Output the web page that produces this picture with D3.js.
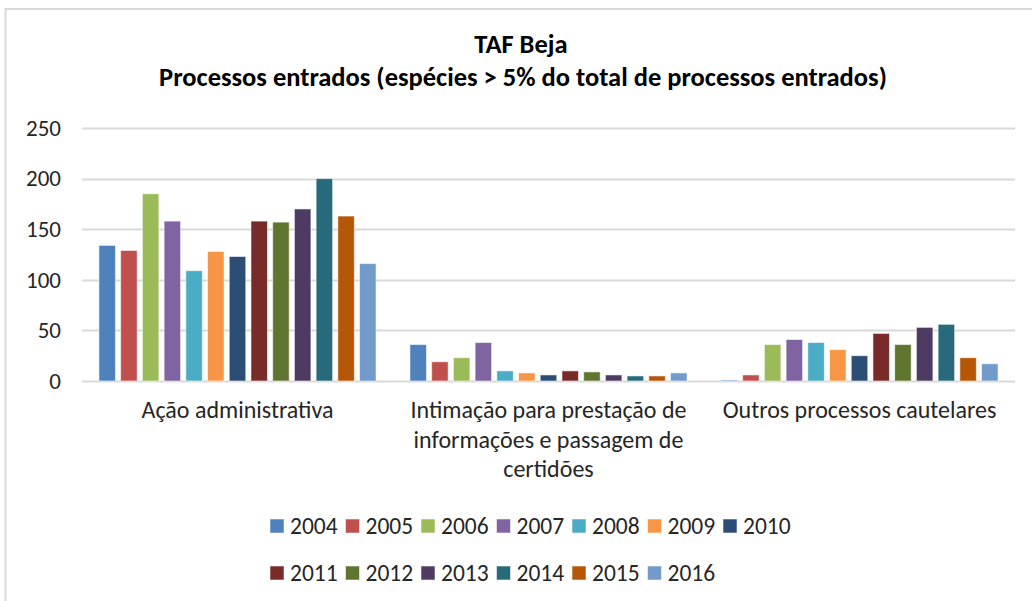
<!DOCTYPE html>
<html>
<head>
<meta charset="utf-8">
<script src="https://cdn.jsdelivr.net/npm/d3@7/dist/d3.min.js"></script>
<style>
  html, body { margin: 0; padding: 0; background: #fff; }
  svg { display: block; font-family: Carlito, Calibri, Lato, sans-serif; }
</style>
</head>
<body>
<svg id="chart" width="1032" height="601"></svg>
<script>
'use strict';

var categories = [
    "Ação administrativa",
    "Intimação para prestação de informações e passagem de certidões",
    "Outros processos cautelares"
];
// wrapped the way the original shows them
var categoryLines = [
    ["Ação administrativa"],
    ["Intimação para prestação de", "informações e passagem de", "certidões"],
    ["Outros processos cautelares"]
];

var years = ["2004", "2005", "2006", "2007", "2008", "2009", "2010",
             "2011", "2012", "2013", "2014", "2015", "2016"];

// one array per category, one value per year
var acaoAdministrativa = [134, 129, 185, 158, 109, 128, 123, 158, 157, 170, 200, 163, 116];
var intimacao = [36, 19, 23, 38, 10, 8, 6, 10, 9, 6, 5, 5, 8];
var outrosCautelares = [1, 6, 36, 41, 38, 31, 25, 47, 36, 53, 56, 23, 17];

var yTicks = [0, 50, 100, 150, 200, 250];

var colors = ["#4F81BD", "#C0504D", "#9BBB59", "#8064A2", "#4BACC6", "#F79646", "#2C4D75",
              "#772C2A", "#5F7530", "#4D3B62", "#276A7C", "#B65708", "#729ACA"];

var seriesByCategory = [acaoAdministrativa, intimacao, outrosCautelares];

var svg = d3.select("#chart");

var margin = {left: 82, right: 1015, top: 128, bottom: 381};

var x0 = d3.scaleBand()
    .domain(categories)
    .range([margin.left, margin.right])
    .padding(0);

var x1 = d3.scaleBand()
    .domain(years)
    .range([0, x0.bandwidth()])
    .paddingInner(0.24)
    .paddingOuter(0.78);

var y = d3.scaleLinear()
    .domain([0, 250])
    .range([margin.bottom, margin.top]);

var color = d3.scaleOrdinal().domain(years).range(colors);

// chart area border
svg.append("rect")
    .attr("x", 5.5)
    .attr("y", 9)
    .attr("width", 1100)
    .attr("height", 700)
    .attr("fill", "none")
    .attr("stroke", "#d9d9d9")
    .attr("stroke-width", 2);

// title
var title = svg.append("text")
    .attr("text-anchor", "middle")
    .attr("font-weight", "bold")
    .attr("font-size", 26.5)
    .attr("fill", "#000");
title.append("tspan").attr("x", 521).attr("y", 53).text("TAF Beja");
title.append("tspan").attr("x", 523).attr("y", 86)
    .text("Processos entrados (espécies > 5% do total de processos entrados)");

// gridlines
svg.append("g")
    .selectAll("line")
    .data(yTicks)
    .join("line")
    .attr("x1", margin.left)
    .attr("x2", margin.right)
    .attr("y1", function (d) { return Math.round(y(d)) + 0.5; })
    .attr("y2", function (d) { return Math.round(y(d)) + 0.5; })
    .attr("stroke", "#d9d9d9")
    .attr("stroke-width", 2);

// y axis labels
var yAxis = svg.append("g")
    .attr("transform", "translate(" + margin.left + ",0)")
    .call(d3.axisLeft(y).tickValues(yTicks).tickSize(0).tickPadding(21));
yAxis.select(".domain").remove();
yAxis.selectAll("text")
    .attr("font-size", 23)
    .attr("fill", "#262626");
yAxis.attr("font-family", null).attr("font-size", null);

// bars
var groups = svg.append("g")
    .selectAll("g")
    .data(categories)
    .join("g")
    .attr("transform", function (d) { return "translate(" + x0(d) + ",0)"; });

groups.selectAll("rect")
    .data(function (d, i) {
        return years.map(function (yr, j) {
            return {year: yr, value: seriesByCategory[i][j]};
        });
    })
    .join("rect")
    .attr("x", function (d) { return x1(d.year); })
    .attr("width", x1.bandwidth())
    .attr("y", function (d) { return y(d.value); })
    .attr("height", function (d) { return y(0) - y(d.value); })
    .attr("fill", function (d) { return color(d.year); })
    .attr("stroke", "rgba(255,255,255,0.55)")
    .attr("stroke-width", 1);

// category labels
var catLabels = svg.append("g")
    .selectAll("text")
    .data(categories)
    .join("text")
    .attr("text-anchor", "middle")
    .attr("font-size", 24)
    .attr("fill", "#262626");

catLabels.selectAll("tspan")
    .data(function (d, i) { return categoryLines[i]; })
    .join("tspan")
    .attr("x", function () {
        var cat = d3.select(this.parentNode).datum();
        return x0(cat) + x0.bandwidth() / 2;
    })
    .attr("y", function (d, i) { return 418 + i * 29.5; })
    .text(function (d) { return d; });

// legend: two rows, fixed slots
var legendRows = [years.slice(0, 7), years.slice(7)];
var legend = svg.append("g");
legendRows.forEach(function (row, r) {
    var item = legend.append("g")
        .selectAll("g")
        .data(row)
        .join("g")
        .attr("transform", function (d, i) {
            return "translate(" + (270 + i * 75.5) + "," + (526 + r * 47) + ")";
        });
    item.append("rect")
        .attr("x", 0)
        .attr("y", -7)
        .attr("width", 14)
        .attr("height", 14)
        .attr("fill", function (d) { return color(d); })
        .attr("stroke", "rgba(255,255,255,0.55)");
    item.append("text")
        .attr("x", 20)
        .attr("y", 8)
        .attr("font-size", 23.5)
        .attr("fill", "#262626")
        .text(function (d) { return d; });
});
</script>
</body>
</html>
